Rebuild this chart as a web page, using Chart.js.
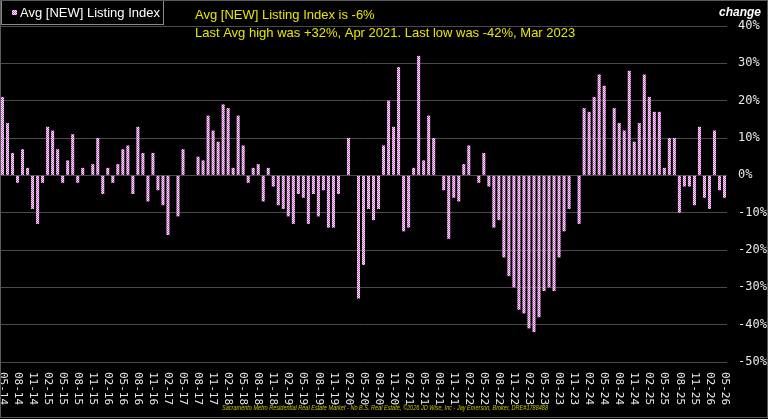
<!DOCTYPE html>
<html>
<head>
<meta charset="utf-8">
<script src="https://cdn.jsdelivr.net/npm/chart.js@4.4.1/dist/chart.umd.min.js"></script>
<style>
  html, body { margin: 0; padding: 0; background: #000; }
  #wrap { width: 768px; height: 419px; position: relative; }
</style>
</head>
<body>
<div id="wrap"><canvas id="chart" width="768" height="419"></canvas></div>
<script>
// monthly categories, May 2014 .. May 2026
const startYear = 2014;
const startMonth = 5;
const monthCount = 145;
const months = [];
for (let i = 0; i < monthCount; i++) {
  const m = ((startMonth - 1 + i) % 12) + 1;
  const y = startYear + Math.floor((startMonth - 1 + i) / 12);
  months.push(String(m).padStart(2, "0") + "-" + String(y % 100).padStart(2, "0"));
}

// percent change
const listingIndex = [
  21, 14, 6, -2, 7, 2, -9, -13, -2, 13, 12, 7, -2, 4, 11, -2, 2, 0, 3, 10,
  -5, 2, -2, 3, 7, 8, -5, 13, 6, -7, 6, -4, -8, -16, 0, -11, 7, 0, 0, 5,
  4, 16, 12, 9, 19, 18, 2, 16, 8, -2, 2, 3, -7, 2, -3, -8, -9, -11, -13, -5,
  -6, -13, -5, -11, -4, -14, -14, -5, 0, 10, 0, -33, -24, -9, -12, -9, 8, 20, 13, 29,
  -15, -14, 2, 32, 4, 16, 10, 0, -4, -17, -6, -7, 3, 8, 0, -2, 6, -3, -14, -12,
  -22, -27, -30, -36, -37, -41, -42, -38, -31, -30, -31, -22, -15, -9, 0, -13, 18, 17, 21, 27,
  24, 0, 18, 14, 12, 28, 9, 14, 27, 21, 17, 17, 2, 10, 10, -10, -3, -3, -8, 13,
  -6, -9, 12, -4, -6
];

const seriesName = "Avg [NEW] Listing Index";
const titleLines = [
  "Avg [NEW] Listing Index is -6%",
  "Last Avg high was +32%, Apr 2021. Last low was -42%, Mar 2023"
];
const footerText = "Sacramento Metro Residential Real Estate Market - No B.S. Real Estate, \u00a92026 JD Wise, Inc - Jay Emerson, Broker, DRE#1788488";
const yTicks = { min: -50, max: 40, step: 10 };

// checkered pink fill like the original bars
const makePattern = (ctx) => {
  const c = document.createElement("canvas");
  c.width = 2;
  c.height = 2;
  const p = c.getContext("2d");
  p.fillStyle = "#ffffff";
  p.fillRect(0, 0, 2, 2);
  p.fillStyle = "#e24ee2";
  p.fillRect(0, 0, 1, 1);
  p.fillRect(1, 1, 1, 1);
  return ctx.createPattern(c, "repeat");
};

const canvas = document.getElementById("chart");
const ctx = canvas.getContext("2d");
const barFill = makePattern(ctx);

const overlay = {
  id: "overlay",
  afterDraw(chart) {
    const c = chart.ctx;
    const x = chart.scales.x;
    const area = chart.chartArea;
    c.save();

    // x labels, rotated clockwise
    c.fillStyle = "#e8e8e8";
    c.font = "11px 'DejaVu Sans Mono', monospace";
    c.textAlign = "left";
    c.textBaseline = "middle";
    months.forEach((lab, i) => {
      if (i % 3 !== 0) return;
      const px = x.getPixelForValue(i);
      c.save();
      c.translate(px, area.bottom + 10);
      c.rotate(Math.PI / 2);
      c.fillText(lab, 0, 0);
      c.restore();
    });

    // legend box
    c.strokeStyle = "#8a8a8a";
    c.lineWidth = 1;
    c.strokeRect(1.5, 0.5, 162, 24);
    c.fillStyle = barFill;
    c.fillRect(12, 10, 5, 5);
    c.fillStyle = "#ffffff";
    c.font = "13px 'Liberation Sans', Arial, sans-serif";
    c.textBaseline = "alphabetic";
    c.fillText(seriesName, 20, 17);

    // headline
    c.fillStyle = "#e6e600";
    c.fillText(titleLines[0], 195, 19);
    c.fillText(titleLines[1], 195, 37);

    // axis caption
    c.fillStyle = "#ffffff";
    c.font = "italic bold 12px 'Liberation Sans', Arial, sans-serif";
    c.textAlign = "right";
    c.fillText("change", 761, 16);

    // footer
    c.fillStyle = "#c4c400";
    c.font = "italic 7px 'Liberation Sans', Arial, sans-serif";
    c.textAlign = "left";
    c.fillText(footerText, 222, 410, 326);

    // frame
    c.strokeStyle = "#5a5a5a";
    c.strokeRect(0.5, 0.5, 767, 417);
    c.restore();
  }
};

new Chart(ctx, {
  type: "bar",
  data: {
    labels: months,
    datasets: [
      {
        label: seriesName,
        data: listingIndex,
        backgroundColor: barFill,
        borderWidth: 0,
        barPercentage: 0.6,
        categoryPercentage: 1.0
      }
    ]
  },
  options: {
    responsive: false,
    animation: false,
    events: [],
    layout: { padding: { top: 26, left: 0, right: 0, bottom: 0 } },
    plugins: {
      legend: { display: false },
      title: { display: false },
      tooltip: { enabled: false }
    },
    scales: {
      x: {
        offset: true,
        grid: { display: false },
        border: { display: false },
        ticks: { display: false },
        afterFit: (scale) => { scale.height = 57; }
      },
      y: {
        position: "right",
        min: yTicks.min,
        max: yTicks.max,
        border: { display: false },
        grid: { color: "#4a4a4a", lineWidth: 1, drawTicks: false },
        ticks: {
          stepSize: yTicks.step,
          padding: 11,
          color: "#e8e8e8",
          font: { family: "'DejaVu Sans Mono', monospace", size: 12 },
          callback: (v) => v + "%"
        },
        afterFit: (scale) => { scale.width = 41; }
      }
    }
  },
  plugins: [overlay]
});
</script>
</body>
</html>
